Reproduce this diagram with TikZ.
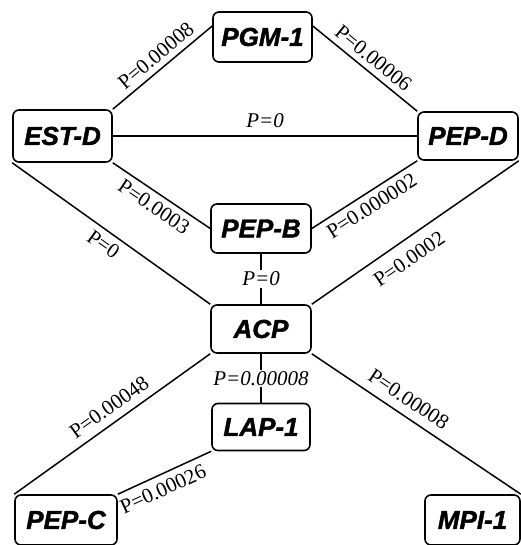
\documentclass[tikz,border=0pt]{standalone}
\usepackage{fontspec}
\setmainfont{Liberation Serif}
\newfontfamily\boxfont[FakeBold=1.5]{Liberation Sans}
\begin{document}
\begin{tikzpicture}[x=1pt,y=1pt,
  box/.style={draw, line width=1.6pt, rounded corners=6pt, minimum width=100pt,
    minimum height=49pt, inner sep=0pt,
    font=\boxfont\bfseries\itshape\fontsize{26}{26}\selectfont},
  conn/.style={line width=1.5pt},
  lab/.style={font=\fontsize{21}{21}\selectfont, inner sep=1.5pt},
  ilab/.style={font=\itshape\fontsize{21}{21}\selectfont, inner sep=1.5pt}]
\useasboundingbox (0,0) rectangle (520,-545);
\node[box, minimum width=99pt, minimum height=50pt] (pgm) at (262.5,-37) {PGM-1};
\node[box, minimum width=99pt, minimum height=52pt] (estd) at (62.5,-136) {EST-D};
\node[box, minimum height=48pt] (pepd) at (468,-136) {PEP-D};
\node[box] (pepb) at (261,-228.5) {PEP-B};
\node[box, minimum height=48pt] (acp) at (261,-329) {ACP};
\node[box, minimum width=98pt, minimum height=47pt] (lap) at (261,-427) {LAP-1};
\node[box, minimum width=102pt, minimum height=50pt] (pepc) at (66,-520) {PEP-C};
\node[box, minimum width=95pt, minimum height=50pt] (mpi) at (472.5,-520) {MPI-1};
\coordinate (pgmw) at ([yshift=11pt]pgm.west);
\coordinate (pgme) at ([yshift=11pt]pgm.east);
\draw[conn] (estd.north east) -- node[lab, sloped, above=4pt, pos=0.52] {P=0.00008} (pgmw);
\draw[conn] (pgme) -- node[lab, sloped, above=4pt] {P=0.00006} (pepd.north west);
\draw[conn] (estd.east) -- node[ilab, above=6pt] {P=0} (pepd.west);
\draw[conn] (estd.south east) -- node[lab, sloped, below=4pt] {P=0.0003} (pepb.west);
\draw[conn] (pepb.east) -- node[lab, sloped, below=4pt] {P=0.000002} (pepd.south west);
\draw[conn] (estd.south west) -- node[lab, sloped, below=4pt] {P=0} (acp.north west);
\draw[conn] (acp.north east) -- node[lab, sloped, below=9pt, pos=0.42] {P=0.0002} (pepd.south east);
\draw[conn] (pepb.south) -- node[ilab, fill=white] {P=0} (acp.north);
\draw[conn] (acp.south) -- node[ilab, fill=white] {P=0.00008} (lap.north);
\draw[conn] (pepc.north west) -- node[lab, sloped, above=6pt, pos=0.53] {P=0.00048} (acp.south west);
\draw[conn] (pepc.north east) -- node[lab, sloped, below=5pt, pos=0.42] {P=0.00026} (lap.south west);
\draw[conn] (acp.south east) -- node[lab, sloped, above=7pt, pos=0.42] {P=0.00008} (mpi.north east);
\end{tikzpicture}
\end{document}
